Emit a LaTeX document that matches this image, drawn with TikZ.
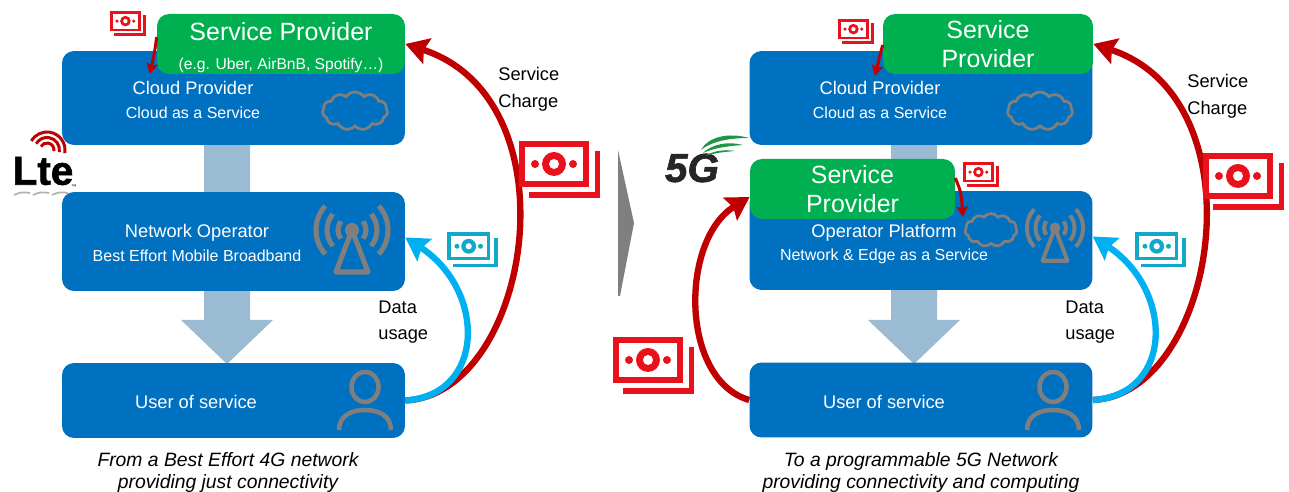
\documentclass[tikz,border=0pt]{standalone}
\usepackage{fontspec}
\setmainfont{Liberation Sans}
\newfontfamily\logofont[BoldFeatures={FakeBold=1.6}, BoldItalicFeatures={FakeBold=1.6}]{Liberation Sans}
\usetikzlibrary{arrows.meta, shapes.symbols}
\definecolor{boxblue}{RGB}{0,112,192}
\definecolor{boxgreen}{RGB}{0,176,80}
\definecolor{stempale}{RGB}{155,187,211}
\definecolor{flowred}{RGB}{192,0,0}
\definecolor{flowblue}{RGB}{0,176,240}
\definecolor{billred}{RGB}{232,17,28}
\definecolor{billblue}{RGB}{19,167,200}
\definecolor{icongray}{RGB}{127,127,127}
\definecolor{logogreen}{RGB}{30,150,70}
\tikzset{
    box/.style={draw=none, fill=boxblue, rounded corners=0.24cm, minimum width=6.86cm, inner sep=0pt},
    green box/.style={fill=boxgreen, rounded corners=0.24cm, inner sep=0pt, minimum height=1.2cm, text=white, align=center, font=\fontsize{14.2}{16.6}\selectfont},
    big label/.style={text=white, font=\fontsize{10.4}{12}\selectfont},
    small label/.style={text=white, font=\fontsize{9.1}{11}\selectfont},
    flow label/.style={align=left, anchor=west, inner sep=0pt, font=\fontsize{10.4}{15.2}\selectfont},
    caption label/.style={align=center, font=\fontsize{11}{13}\selectfont\itshape},
    big flow/.style={line width=3.6pt, -{Stealth[length=13pt, width=15pt, inset=2pt]}},
    small flow/.style={line width=1.7pt, flowred, -{Stealth[length=6pt, width=6.5pt, inset=1pt]}},
    cloud icon/.style={cloud, cloud puffs=11, cloud puff arc=110, aspect=1.8, draw=icongray, line width=1.6pt, inner sep=0pt},
    bill big/.style={scale=1, line width=3.4pt},
    bill mid/.style={scale=0.62, line width=2.1pt},
    bill small/.style={scale=0.44, line width=1.5pt},
    pics/bill/.style={code={
        \draw (3,3) rectangle (67,43);
        \draw[line cap=butt] (78.5,10) -- (78.5,54) -- (10,54);
        \fill (35,23) circle (12);
        \fill[white] (35,23) circle (5);
        \fill (16,23) circle (4) (54,23) circle (4);
    }},
    pics/mast/.style={code={
        \fill (0,0) circle (7);
        \draw[line join=round] (0,0) -- (-16,42) -- (16,42) -- cycle;
        \foreach \r/\a in {14/38, 25/40, 36/42} {
            \draw (0,0) ++(-\a:\r) arc[start angle=-\a, end angle=\a, radius=\r];
            \draw (0,0) ++(180-\a:\r) arc[start angle=180-\a, end angle=180+\a, radius=\r];
        }
    }},
    pics/person/.style={code={
        \draw (0,0) ellipse (13.5 and 15);
        \draw (-26,43) .. controls (-26,29) and (-14,23) .. (0,23) .. controls (14,23) and (26,29) .. (26,43);
    }},
}

\begin{document}
\begin{tikzpicture}[x=0.02cm, y=-0.02cm, >=Stealth]
\useasboundingbox (0,0) rectangle (1289,492);

% Fleches pales
\foreach \x in {227, 914} {
    \fill[stempale] (\x-23,130) -- (\x+23,130) -- (\x+23,320) -- (\x+46,320) -- (\x,364) -- (\x-46,320) -- (\x-23,320) -- cycle;
}

% Gauche
\node[box, minimum height=1.88cm] (cloudL) at (233.5,98) {};
\node[box, minimum height=1.98cm] (netL) at (233.5,241.5) {};
\node[box, minimum height=1.5cm] (userL) at (233.5,400.5) {};
\node[green box, minimum width=4.96cm] (spL) at (281,44) {\rule{0pt}{14pt}Service Provider\\{\fontsize{8.9}{11}\selectfont (e.g. Uber, AirBnB, Spotify…)}};
\node[big label] (cloudLa) at (193,88) {Cloud Provider};
\node[small label] (cloudLb) at (193,113) {Cloud as a Service};
\node[big label] (netLa) at (197,233) {Network Operator};
\node[small label] (netLb) at (197,256) {Best Effort Mobile Broadband};
\node[big label] (userLa) at (196,402) {User of service};
\node[cloud icon, minimum width=1.3cm, minimum height=0.76cm] (iconL) at (355,111) {};
\pic[icongray, line width=2.9pt] at (352,230) {mast};
\pic[icongray, line width=2.6pt] at (365,387) {person};

% Droite
\node[box, minimum height=1.88cm] (cloudR) at (921,98) {};
\node[box, minimum height=1.98cm] (opR) at (921,240.5) {};
\node[box, minimum height=1.5cm] (userR) at (921,400) {};
\node[green box, minimum width=4.2cm] (spR) at (988,44) {Service\\Provider};
\node[green box, minimum width=4.1cm] (spOp) at (852.5,189) {Service\\Provider};
\node[big label] (cloudRa) at (880,88) {Cloud Provider};
\node[small label] (cloudRb) at (880,113) {Cloud as a Service};
\node[big label] (opRa) at (884,233) {Operator Platform};
\node[small label] (opRb) at (884,256) {Network \& Edge as a Service};
\node[big label] (userRa) at (884,402) {User of service};
\node[cloud icon, minimum width=1.3cm, minimum height=0.76cm] (iconR) at (1040,111) {};
\node[cloud icon, minimum width=1.04cm, minimum height=0.66cm] (iconOp) at (991,230) {};
\pic[icongray, line width=2.3pt, scale=0.78] at (1055,228) {mast};
\pic[icongray, line width=2.6pt] at (1053,387) {person};

% Flux
\coordinate (tipL) at (150,74);
\coordinate (tipR) at (875,76);
\coordinate (tipOp) at (963,217);
\draw[big flow, flowred] (userL.east) .. controls (530,395) and (578,100) .. (spL.east);
\draw[big flow, flowblue] (userL.east) .. controls (486,395) and (486,290) .. ([yshift=0.08cm]netL.east);
\draw[big flow, flowred] (userR.east) .. controls (1216,395) and (1264,100) .. (spR.east);
\draw[big flow, flowblue] (userR.east) .. controls (1174,395) and (1174,290) .. ([yshift=0.08cm]opR.east);
\draw[big flow, flowred] (userR.west) .. controls (680,380) and (680,240) .. ([yshift=-0.16cm]spOp.west);
\draw[small flow] ([yshift=0.14cm]spL.west) .. controls (155,50) .. (tipL);
\draw[small flow] ([yshift=-0.02cm]spR.west) .. controls (880,55) .. (tipR);
\draw[small flow] ([yshift=0.22cm]spOp.east) .. controls (961,192) .. (tipOp);

% Billets
\pic[billred, bill small] at (110,11) {bill};
\pic[billred, bill big] at (519,141) {bill};
\pic[billblue, bill mid] at (447,232) {bill};
\pic[billred, bill small] at (838,19) {bill};
\pic[billred, bill small] at (963,162) {bill};
\pic[billred, bill big] at (1203,153) {bill};
\pic[billred, bill big] at (613,337) {bill};
\pic[billblue, bill mid] at (1135,232) {bill};

% Textes
\node[flow label] (chargeL) at (498,89.5) {Service\\Charge};
\node[flow label] (usageL) at (378,322) {Data\\usage};
\node[flow label] (chargeR) at (1187,96) {Service\\Charge};
\node[flow label] (usageR) at (1065,322) {Data\\usage};
\node[caption label] (captionL) at (228,472.5) {From a Best Effort 4G network\\providing just connectivity};
\node[caption label] (captionR) at (921,472.5) {To a programmable 5G Network\\providing connectivity and computing};

% Chevron
\fill[icongray] (618,150) -- (634,223) -- (620,296) -- (618,296) -- cycle;

% Logo Lte
\node[inner sep=0pt, font=\logofont\fontsize{23}{23}\selectfont\bfseries] (lte) at (43,171) {Lte};
\node[inner sep=0pt, font=\fontsize{3}{3}\selectfont] (lteTm) at (74,187) {™};
\foreach \r in {7,12.5,18} {
    \draw[flowred, line width=1.7pt] (47,150) ++(10:\r) arc[start angle=10, end angle=-150, radius=\r];
}
\foreach \x in {14,33,52} {
    \draw[icongray!60, line width=1pt] (\x,195) .. controls (\x+6,192) and (\x+10,192) .. (\x+16,193);
}

% Logo 5G
\node[inner sep=0pt, text=black!85, font=\logofont\fontsize{23}{23}\selectfont\bfseries\itshape] (fiveG) at (692,168) {5G};
\fill[logogreen] (701,150) .. controls (708,137) and (728,132) .. (749,138) .. controls (730,138) and (712,141) .. cycle;
\fill[logogreen] (703,153) .. controls (712,144) and (728,141) .. (743,145) .. controls (728,146) and (714,148) .. cycle;
\fill[logogreen] (705,156) .. controls (713,151) and (724,149) .. (735,151) .. controls (724,152) and (714,153) .. cycle;

\end{tikzpicture}
\end{document}
